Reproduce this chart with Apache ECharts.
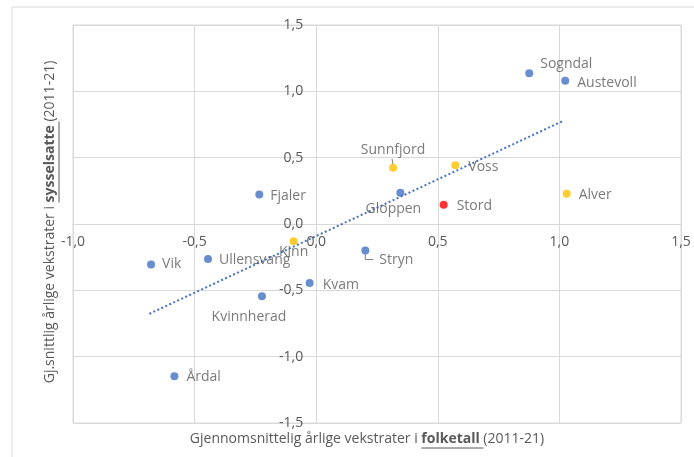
<!DOCTYPE html>
<html>
<head>
<meta charset="utf-8">
<script src="https://cdn.jsdelivr.net/npm/echarts@6/dist/echarts.min.js"></script>
<style>
  html, body { margin: 0; padding: 0; background: #fff; }
  #chart { width: 694px; height: 457px; }
</style>
</head>
<body>
<div id="chart"></div>
<script>
// kommunar og vekstrater (2011-21), lest av figuren
const kommunar = ['Sogndal', 'Austevoll', 'Sunnfjord', 'Voss', 'Gloppen', 'Stord', 'Alver', 'Fjaler',
  'Kinn', 'Vik', 'Ullensvang', 'Kvam', 'Kvinnherad', 'Årdal', 'Stryn']
const folketall = [0.876, 1.024, 0.316, 0.572, 0.346, 0.524, 1.030, -0.234,
  -0.093, -0.679, -0.445, -0.027, -0.223, -0.583, 0.202]
const sysselsatte = [1.137, 1.080, 0.424, 0.443, 0.235, 0.145, 0.228, 0.222,
  -0.130, -0.305, -0.263, -0.444, -0.544, -1.148, -0.200]
// samanslåtte kommunar (gul) og Stord (raud)
const samanslaatte = ['Sunnfjord', 'Voss', 'Alver', 'Kinn']
const fokus = ['Stord']
// trendlinje (lineær), endepunkt lest av figuren
const trendX = [-0.686, 1.013]
const trendY = [-0.677, 0.775]
// aksetekstar
const xTicks = ['-1,0', '-0,5', '0,0', '0,5', '1,0', '1,5']
const yTicks = ['-1,5', '-1,0', '-0,5', '0,0', '0,5', '1,0', '1,5']

const FONT = '"Open Sans", "Noto Sans", sans-serif'
const FS = 14
const TXT = '#595959'
const GRID = '#d9d9d9'

// plassering av etikettar
const labelPos = {
  Sogndal: { offset: [2, -9], position: 'right' },
  Austevoll: { offset: [3, 2], position: 'right' },
  Sunnfjord: { offset: [0, -2], position: 'top' },
  Voss: { offset: [4, 2], position: 'right' },
  Gloppen: { offset: [-7, 0], position: 'bottom' },
  Stord: { offset: [4, 1], position: 'right' },
  Alver: { offset: [3, 1], position: 'right' },
  Fjaler: { offset: [2, 1], position: 'right' },
  Kinn: { offset: [0, -5], position: 'bottom' },
  Vik: { offset: [2, 0], position: 'right' },
  Ullensvang: { offset: [2, 1], position: 'right' },
  Kvam: { offset: [4, 2], position: 'right' },
  Kvinnherad: { offset: [-13, 5], position: 'bottom' },
  'Årdal': { offset: [3, 1], position: 'right' },
  Stryn: { offset: [5, 9], position: 'right' }
}

function colourOf(name) {
  if (fokus.includes(name)) return '#FF0000'
  if (samanslaatte.includes(name)) return '#FFC000'
  return '#4472C4'
}

const points = kommunar.map((name, i) => {
  const p = labelPos[name]
  return {
    name: name,
    value: [folketall[i], sysselsatte[i]],
    itemStyle: { color: colourOf(name) },
    label: { position: p.position, offset: p.offset }
  }
})

// tittel med understreka ord
const ctx = document.createElement('canvas').getContext('2d')
function tw(s, bold) {
  ctx.font = (bold ? 'bold ' : '') + FS + 'px ' + FONT
  return ctx.measureText(s).width
}
function titleGroup(id, parts, x, y, rotation) {
  const total = parts.reduce((a, p) => a + tw(p.t, p.b), 0)
  let cx = -total / 2
  const children = []
  parts.forEach(p => {
    const w = tw(p.t, p.b)
    children.push({
      type: 'text',
      x: cx,
      y: 0,
      style: { text: p.t, fill: TXT, font: (p.b ? 'bold ' : '') + FS + 'px ' + FONT, textVerticalAlign: 'middle' }
    })
    if (p.u) {
      children.push({
        type: 'line',
        shape: { x1: cx, y1: 9, x2: cx + w, y2: 9 },
        style: { stroke: TXT, lineWidth: 1 }
      })
    }
    cx += w
  })
  return { id: id, type: 'group', x: x, y: y, rotation: rotation, children: children }
}

// rutenett: aksane kryssar i (0,0)
const gLeft = 73
const gTop = 25
const gRight = 13
const gBottom = 34
const gW = 694 - gLeft - gRight
const gH = 457 - gTop - gBottom

const chart = echarts.init(document.getElementById('chart'))
chart.setOption({
  animation: false,
  textStyle: { fontFamily: FONT },
  grid: {
    show: true,
    left: gLeft,
    top: gTop,
    right: gRight,
    bottom: gBottom,
    borderColor: GRID,
    borderWidth: 1
  },
  xAxis: {
    type: 'value',
    min: -1,
    max: 1.5,
    interval: 0.5,
    offset: -gH * 1.5 / 3,
    axisLine: { onZero: false, lineStyle: { color: GRID } },
    axisTick: { show: false },
    splitLine: { lineStyle: { color: GRID } },
    axisLabel: {
      color: TXT,
      fontSize: FS,
      margin: 11,
      formatter: v => xTicks[Math.round((v + 1) / 0.5)]
    }
  },
  yAxis: {
    type: 'value',
    min: -1.5,
    max: 1.5,
    interval: 0.5,
    offset: -gW * 1 / 2.5,
    axisLine: { onZero: false, lineStyle: { color: GRID } },
    axisTick: { show: false },
    splitLine: { lineStyle: { color: GRID } },
    axisLabel: {
      color: TXT,
      fontSize: FS,
      margin: 13,
      formatter: v => yTicks[Math.round((v + 1.5) / 0.5)]
    }
  },
  graphic: [
    {
      id: 'ramme',
      type: 'rect',
      shape: { x: 12, y: 7, width: 700, height: 470 },
      style: { fill: 'none', stroke: GRID, lineWidth: 1 },
      silent: true
    },
    titleGroup('xTittel', [
      { t: 'Gjennomsnittelig årlige vekstrater i ' },
      { t: 'folketall ', b: true, u: true },
      { t: '(2011-21)' }
    ], 367, 439, 0),
    titleGroup('yTittel', [
      { t: 'Gj.snittlig årlige vekstrater i ' },
      { t: 'sysselsatte ', b: true, u: true },
      { t: '(2011-21)' }
    ], 50, 222, Math.PI / 2)
  ],
  series: [
    {
      name: 'Trend',
      type: 'line',
      data: trendX.map((x, i) => [x, trendY[i]]),
      showSymbol: false,
      lineStyle: { color: '#4472C4', width: 2, type: [2, 2.4], cap: 'butt' },
      z: 1
    },
    {
      name: 'Kommunar',
      type: 'scatter',
      symbolSize: 8,
      data: points,
      label: {
        show: true,
        formatter: '{b}',
        color: TXT,
        fontSize: FS
      },
      z: 3
    }
  ]
})

// leiarlinjer for Stryn og Sunnfjord
function pt(name) {
  const i = kommunar.indexOf(name)
  return chart.convertToPixel({ gridIndex: 0 }, [folketall[i], sysselsatte[i]])
}
const stryn = pt('Stryn')
const sunnfjord = pt('Sunnfjord')
chart.setOption({
  graphic: [
    {
      id: 'leiarStryn',
      type: 'polyline',
      shape: { points: [[stryn[0], stryn[1] + 3], [stryn[0], stryn[1] + 9], [stryn[0] + 8, stryn[1] + 9]] },
      style: { stroke: '#7f7f7f', lineWidth: 1, fill: 'none' },
      z: 2
    },
    {
      id: 'leiarSunnfjord',
      type: 'line',
      shape: { x1: sunnfjord[0], y1: sunnfjord[1] - 3, x2: sunnfjord[0] - 1, y2: sunnfjord[1] - 9 },
      style: { stroke: '#7f7f7f', lineWidth: 1 },
      z: 2
    }
  ]
})
</script>
</body>
</html>
